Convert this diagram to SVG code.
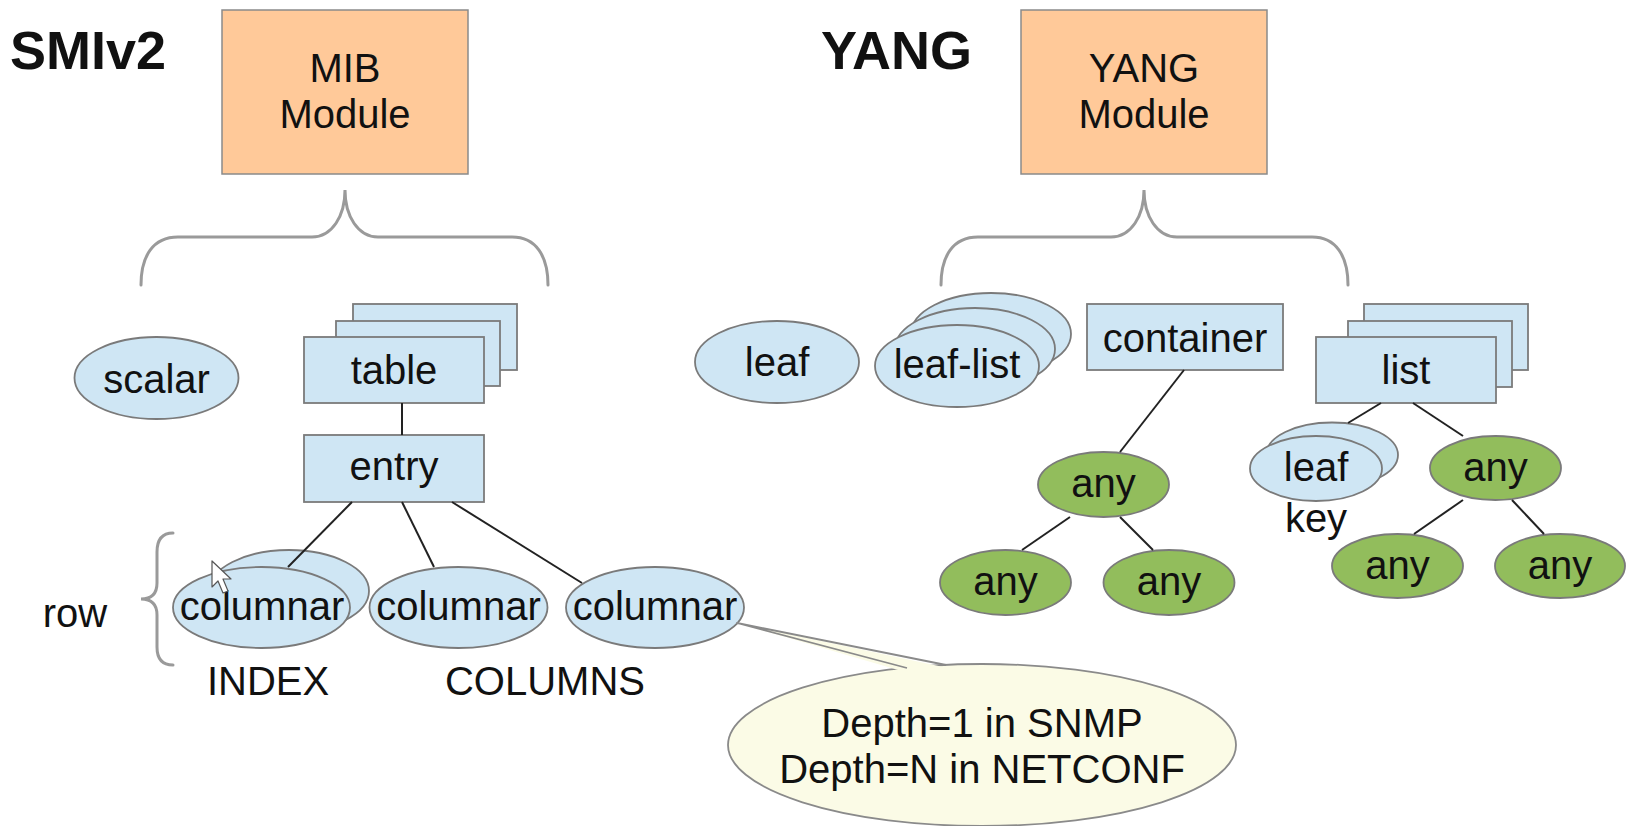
<svg xmlns="http://www.w3.org/2000/svg" width="1626" height="826" viewBox="0 0 1626 826">
<style>
text{font-family:"Liberation Sans",Arial,sans-serif;font-size:40px;fill:#111;text-anchor:middle}
.title{font-weight:bold;font-size:54px;text-anchor:start}
.mod{fill:#ffc999;stroke:#8a8a8a;stroke-width:1.5}
.blue{fill:#cfe6f4;stroke:#7a7a7a;stroke-width:1.8}
.green{fill:#92bd5c;stroke:#7a7a7a;stroke-width:1.8}
.brace{fill:none;stroke:#9a9a9a;stroke-width:3;stroke-linecap:round}
.conn line{stroke:#222;stroke-width:2}
</style>

<g id="title-smiv2"><text class="title" x="10" y="69">SMIv2</text></g>
<g id="title-yang"><text class="title" x="821" y="69">YANG</text></g>

<g id="mib-module">
<rect class="mod" x="222" y="10" width="246" height="164"/>
<text x="345" y="82">MIB</text>
<text x="345" y="128">Module</text>
</g>
<g id="yang-module">
<rect class="mod" x="1021" y="10" width="246" height="164"/>
<text x="1144" y="82">YANG</text>
<text x="1144" y="128">Module</text>
</g>

<g id="braces">
<path class="brace" d="M141,285 C141,256 153,237 178,237 L312,237 C332,237 345,216 345,190 C345,216 358,237 378,237 L512,237 C536,237 548,256 548,285"/>
<path class="brace" d="M941,285 C941,256 953,237 978,237 L1111,237 C1131,237 1144,216 1144,190 C1144,216 1157,237 1177,237 L1312,237 C1336,237 1348,256 1348,285"/>
<path class="brace" d="M173,533 C162,533 157,540 157,552 L157,583 C157,594 151,599 141,599 C151,599 157,604 157,615 L157,647 C157,659 162,665 173,665"/>
</g>

<g id="scalar">
<ellipse class="blue" cx="156.5" cy="378" rx="82" ry="41"/>
<text x="156.5" y="393">scalar</text>
</g>

<g id="table">
<rect class="blue" x="353" y="304" width="164" height="66"/>
<rect class="blue" x="336" y="321" width="164" height="65"/>
<rect class="blue" x="304" y="337" width="180" height="66"/>
<text x="394" y="384">table</text>
</g>

<g id="entry">
<rect class="blue" x="304" y="435" width="180" height="67"/>
<text x="394" y="480">entry</text>
</g>

<g id="columnar-index">
<ellipse class="blue" cx="289" cy="591" rx="80" ry="41"/>
<ellipse class="blue" cx="261.5" cy="607.5" rx="88.5" ry="40.5"/>
<text x="262" y="620">columnar</text>
</g>
<g id="columnar-2">
<ellipse class="blue" cx="458.5" cy="607.5" rx="89" ry="40.5"/>
<text x="458.5" y="620">columnar</text>
</g>
<g id="columnar-3">
<ellipse class="blue" cx="655" cy="607.5" rx="89" ry="40.5"/>
<text x="655" y="620">columnar</text>
</g>

<g id="labels">
<text x="75" y="627">row</text>
<text x="268" y="695">INDEX</text>
<text x="545" y="695">COLUMNS</text>
</g>

<g id="callout">
<ellipse cx="982" cy="745" rx="254" ry="81" fill="#fbfbe6" stroke="#8a8a8a" stroke-width="1.8"/>
<polygon points="737,623 948,668 905,672" fill="#fbfbe6"/>
<polyline points="946,665 737,623 907,668" fill="none" stroke="#8a8a8a" stroke-width="1.8" stroke-linejoin="round"/>
<text x="982" y="737">Depth=1 in SNMP</text>
<text x="982" y="783">Depth=N in NETCONF</text>
</g>

<g id="cursor">
<polygon points="212,561 212,587 218,581 223,593 228,591 223,579 231,579" fill="#ffffff" stroke="#555" stroke-width="1.2" stroke-linejoin="round"/>
</g>

<g id="leaf">
<ellipse class="blue" cx="777" cy="362" rx="82" ry="41"/>
<text x="777" y="376">leaf</text>
</g>

<g id="leaf-list">
<ellipse class="blue" cx="991" cy="334" rx="80" ry="41"/>
<ellipse class="blue" cx="975" cy="349" rx="80" ry="41"/>
<ellipse class="blue" cx="957" cy="366" rx="82" ry="41"/>
<text x="957" y="378">leaf-list</text>
</g>

<g id="container">
<rect class="blue" x="1087" y="304" width="196" height="66"/>
<text x="1185" y="352">container</text>
</g>

<g id="list">
<rect class="blue" x="1364" y="304" width="164" height="66"/>
<rect class="blue" x="1348" y="321" width="164" height="66"/>
<rect class="blue" x="1316" y="337" width="180" height="66"/>
<text x="1406" y="384">list</text>
</g>

<g id="any-c1">
<ellipse class="green" cx="1103.5" cy="484.5" rx="65.5" ry="32.5"/>
<text x="1103.5" y="497">any</text>
</g>
<g id="any-c2">
<ellipse class="green" cx="1005.5" cy="582.5" rx="65.5" ry="32.5"/>
<text x="1005.5" y="595">any</text>
</g>
<g id="any-c3">
<ellipse class="green" cx="1169" cy="582.5" rx="65.5" ry="32.5"/>
<text x="1169" y="595">any</text>
</g>

<g id="leaf-key">
<ellipse class="blue" cx="1332" cy="455" rx="66" ry="32.5"/>
<ellipse class="blue" cx="1316" cy="468.5" rx="66" ry="32.5"/>
<text x="1316" y="481">leaf</text>
<text x="1316" y="532">key</text>
</g>

<g id="any-l1">
<ellipse class="green" cx="1495.5" cy="468" rx="65.5" ry="32"/>
<text x="1495.5" y="481">any</text>
</g>
<g id="any-l2">
<ellipse class="green" cx="1397.5" cy="566" rx="65.5" ry="32"/>
<text x="1397.5" y="579">any</text>
</g>
<g id="any-l3">
<ellipse class="green" cx="1560" cy="566" rx="65" ry="32"/>
<text x="1560" y="579">any</text>
</g>

<g id="connectors" class="conn">
<line x1="402" y1="403" x2="402" y2="435"/>
<line x1="352" y1="502" x2="288" y2="567"/>
<line x1="402" y1="502" x2="434" y2="567"/>
<line x1="452" y1="502" x2="582" y2="583"/>
<line x1="1184" y1="370" x2="1120" y2="452"/>
<line x1="1070" y1="517" x2="1022" y2="550"/>
<line x1="1120" y1="517" x2="1153" y2="550"/>
<line x1="1381" y1="403" x2="1348" y2="423"/>
<line x1="1413" y1="403" x2="1463" y2="436"/>
<line x1="1463" y1="500" x2="1414" y2="534"/>
<line x1="1512" y1="500" x2="1544" y2="534"/>
</g>
</svg>
